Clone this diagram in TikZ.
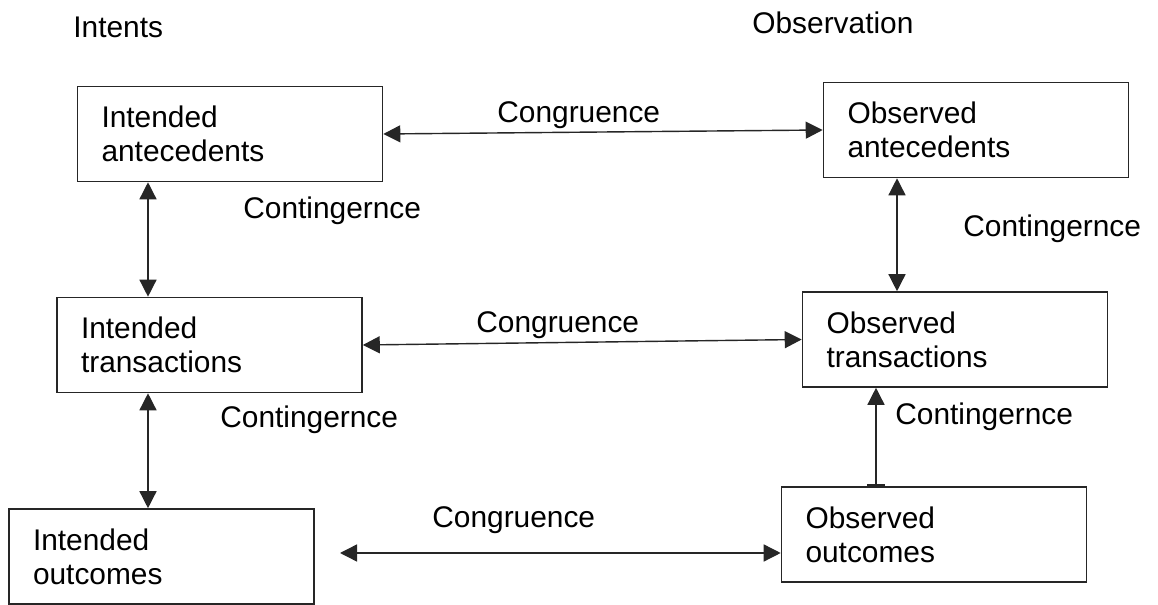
\documentclass[tikz,border=0pt]{standalone}
\usepackage{fontspec}
\setmainfont{Liberation Sans}
\usetikzlibrary{arrows.meta}

\begin{document}
\begin{tikzpicture}[
  font=\fontsize{17}{19.4}\selectfont,
  box/.style={draw=black!85, line width=0.9pt, minimum width=6.1cm, minimum height=1.9cm,
    text width=5.14cm, inner xsep=0.48cm, align=left},
  lbl/.style={anchor=base west, inner sep=0pt},
  both/.style={draw=black!85, line width=0.8pt,
    {Triangle[length=0.34cm,width=0.34cm]}-{Triangle[length=0.34cm,width=0.34cm]}}
]
\useasboundingbox (0,0) rectangle (23.16,12.10);
\node[lbl] (intents) at (1.46,11.34) {Intents};
\node[lbl] (observation) at (15.04,11.42) {Observation};
\node[box] (ia) at (4.60,9.42) {Intended\\antecedents};
\node[box] (oa) at (19.52,9.50) {Observed\\antecedents};
\node[box] (it) at (4.19,5.20) {Intended\\transactions};
\node[box] (ot) at (19.10,5.31) {Observed\\transactions};
\node[box] (io) at (3.23,0.97) {Intended\\outcomes};
\node[box] (oo) at (18.68,1.41) {Observed\\outcomes};
\node[lbl] (cg1) at (9.94,9.64) {Congruence};
\node[lbl] (cg2) at (9.52,5.44) {Congruence};
\node[lbl] (cg3) at (8.64,1.54) {Congruence};
\node[lbl] (ct1) at (4.86,7.72) {Contingernce};
\node[lbl] (ct2) at (19.26,7.36) {Contingernce};
\node[lbl] (ct3) at (4.40,3.54) {Contingernce};
\node[lbl] (ct4) at (17.90,3.60) {Contingernce};
\coordinate (iofree) at (6.80,1.04);
\draw[both] (ia.east) -- (oa.west);
\draw[both] (it.east) -- (ot.west);
\draw[both] (iofree) -- (iofree -| oo.west);
\draw[both] ([xshift=-1.64cm]ia.south) -- ([xshift=-1.64cm]ia.south |- it.north);
\draw[both] ([xshift=-1.23cm]it.south) -- ([xshift=-1.23cm]it.south |- io.north);
\draw[both] ([xshift=-1.58cm]oa.south) -- ([xshift=-1.58cm]oa.south |- ot.north);
\draw[draw=black!85, line width=0.8pt, {Bar[width=0.36cm,line width=1.4pt]}-{Triangle[length=0.34cm,width=0.34cm]}]
  ([xshift=-1.16cm]oo.north) -- ([xshift=-1.16cm]oo.north |- ot.south);
\end{tikzpicture}
\end{document}
